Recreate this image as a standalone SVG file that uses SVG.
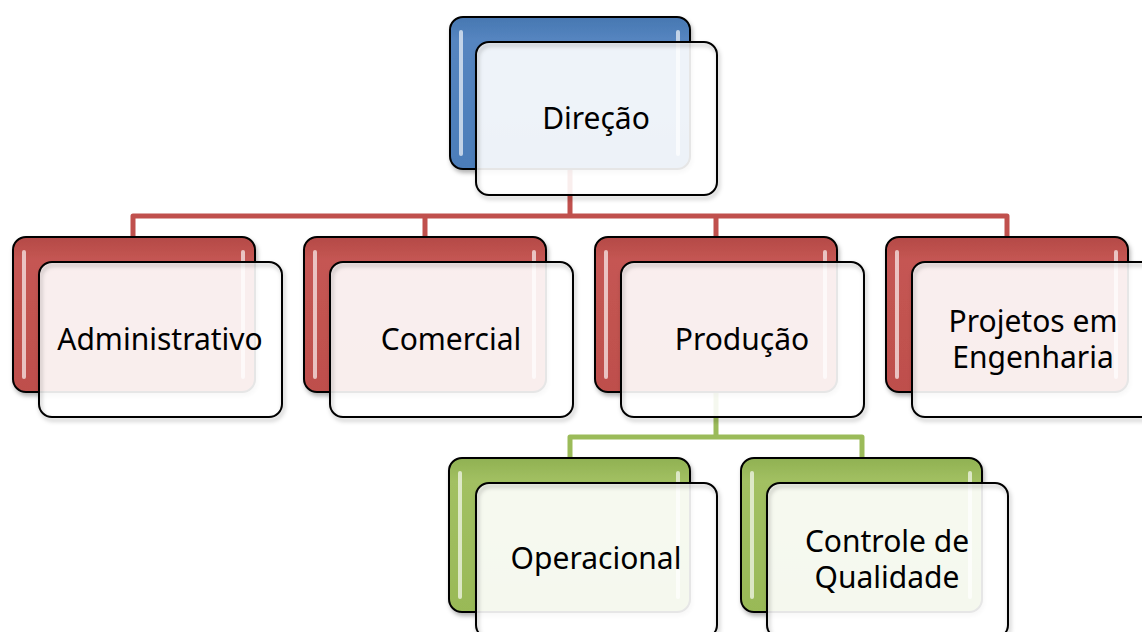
<svg xmlns="http://www.w3.org/2000/svg" width="1142" height="632" viewBox="0 0 1142 632">
  <defs>
    <linearGradient id="gBlue" x1="0" y1="0" x2="0" y2="1">
      <stop offset="0" stop-color="#4777b1"/>
      <stop offset="0.15" stop-color="#5585c0"/>
      <stop offset="1" stop-color="#4c7db9"/>
    </linearGradient>
    <linearGradient id="gRed" x1="0" y1="0" x2="0" y2="1">
      <stop offset="0" stop-color="#b44a47"/>
      <stop offset="0.15" stop-color="#c55653"/>
      <stop offset="1" stop-color="#be4f4c"/>
    </linearGradient>
    <linearGradient id="gGreen" x1="0" y1="0" x2="0" y2="1">
      <stop offset="0" stop-color="#90b152"/>
      <stop offset="0.15" stop-color="#a2c062"/>
      <stop offset="1" stop-color="#99b957"/>
    </linearGradient>
    <filter id="shadow" x="-10%" y="-10%" width="125%" height="130%">
      <feDropShadow dx="1.5" dy="3" stdDeviation="2" flood-color="#000" flood-opacity="0.3"/>
    </filter>
  </defs>
  <style>
    .back { stroke: #000; stroke-width: 2; filter: url(#shadow); }
    .blue { fill: url(#gBlue); }
    .red { fill: url(#gRed); }
    .green { fill: url(#gGreen); }
    .hl { fill: #ffffff; opacity: 0.65; }
    .front { fill: #ffffff; fill-opacity: 0.9; stroke: none; }
    .edge { fill: none; stroke: #000; stroke-width: 2; filter: url(#shadow); }
    .lbl { font-family: "Noto Sans", "Open Sans", sans-serif; font-size: 30px; text-anchor: middle; fill: #000; }
    .line-red { fill: none; stroke: #c0504d; stroke-width: 5; stroke-linejoin: round; }
    .line-green { fill: none; stroke: #9bbb59; stroke-width: 5; stroke-linejoin: round; }
  </style>

  <rect width="1142" height="632" fill="#ffffff"/>

  <!-- connectors -->
  <g id="connectors">
    <path class="line-red" d="M570 168 V216 M133 238 V216 H1007 V238 M425 216 V238 M716 216 V238"/>
    <path class="line-green" d="M716 392 V437 M570 459 V437 H862 V459"/>
  </g>

  <!-- top level -->
  <g id="node-direcao">
    <rect class="back blue" x="450" y="17" width="240" height="152" rx="13"/>
    <rect class="hl" x="459" y="30" width="4" height="126" rx="2"/>
    <rect class="hl" x="676" y="30" width="4" height="126" rx="2"/>
    <rect class="front" x="476" y="42" width="241" height="153" rx="13"/>
    <rect class="edge" x="476" y="42" width="241" height="153" rx="13"/>
    <text class="lbl" x="596" y="129">Direção</text>
  </g>

  <!-- second level -->
  <g id="node-administrativo">
    <rect class="back red" x="13" y="237" width="242" height="155" rx="13"/>
    <rect class="hl" x="22" y="250" width="4" height="129" rx="2"/>
    <rect class="hl" x="241" y="250" width="4" height="129" rx="2"/>
    <rect class="front" x="39" y="262" width="243" height="155" rx="13"/>
    <rect class="edge" x="39" y="262" width="243" height="155" rx="13"/>
    <text class="lbl" x="160" y="350">Administrativo</text>
  </g>

  <g id="node-comercial">
    <rect class="back red" x="304" y="237" width="242" height="155" rx="13"/>
    <rect class="hl" x="313" y="250" width="4" height="129" rx="2"/>
    <rect class="hl" x="532" y="250" width="4" height="129" rx="2"/>
    <rect class="front" x="330" y="262" width="243" height="155" rx="13"/>
    <rect class="edge" x="330" y="262" width="243" height="155" rx="13"/>
    <text class="lbl" x="451" y="350">Comercial</text>
  </g>

  <g id="node-producao">
    <rect class="back red" x="595" y="237" width="242" height="155" rx="13"/>
    <rect class="hl" x="604" y="250" width="4" height="129" rx="2"/>
    <rect class="hl" x="823" y="250" width="4" height="129" rx="2"/>
    <rect class="front" x="621" y="262" width="243" height="155" rx="13"/>
    <rect class="edge" x="621" y="262" width="243" height="155" rx="13"/>
    <text class="lbl" x="742" y="350">Produção</text>
  </g>

  <g id="node-projetos">
    <rect class="back red" x="886" y="237" width="242" height="155" rx="13"/>
    <rect class="hl" x="895" y="250" width="4" height="129" rx="2"/>
    <rect class="hl" x="1114" y="250" width="4" height="129" rx="2"/>
    <rect class="front" x="912" y="262" width="243" height="155" rx="13"/>
    <rect class="edge" x="912" y="262" width="243" height="155" rx="13"/>
    <text class="lbl" x="1033" y="332">Projetos em<tspan x="1033" dy="36">Engenharia</tspan></text>
  </g>

  <!-- third level -->
  <g id="node-operacional">
    <rect class="back green" x="449" y="458" width="241" height="154" rx="13"/>
    <rect class="hl" x="458" y="471" width="4" height="128" rx="2"/>
    <rect class="hl" x="676" y="471" width="4" height="128" rx="2"/>
    <rect class="front" x="476" y="483" width="241" height="155" rx="13"/>
    <rect class="edge" x="476" y="483" width="241" height="155" rx="13"/>
    <text class="lbl" x="596" y="569">Operacional</text>
  </g>

  <g id="node-controle">
    <rect class="back green" x="741" y="458" width="241" height="154" rx="13"/>
    <rect class="hl" x="750" y="471" width="4" height="128" rx="2"/>
    <rect class="hl" x="968" y="471" width="4" height="128" rx="2"/>
    <rect class="front" x="767" y="483" width="241" height="155" rx="13"/>
    <rect class="edge" x="767" y="483" width="241" height="155" rx="13"/>
    <text class="lbl" x="887" y="552">Controle de<tspan x="887" dy="36">Qualidade</tspan></text>
  </g>
</svg>
